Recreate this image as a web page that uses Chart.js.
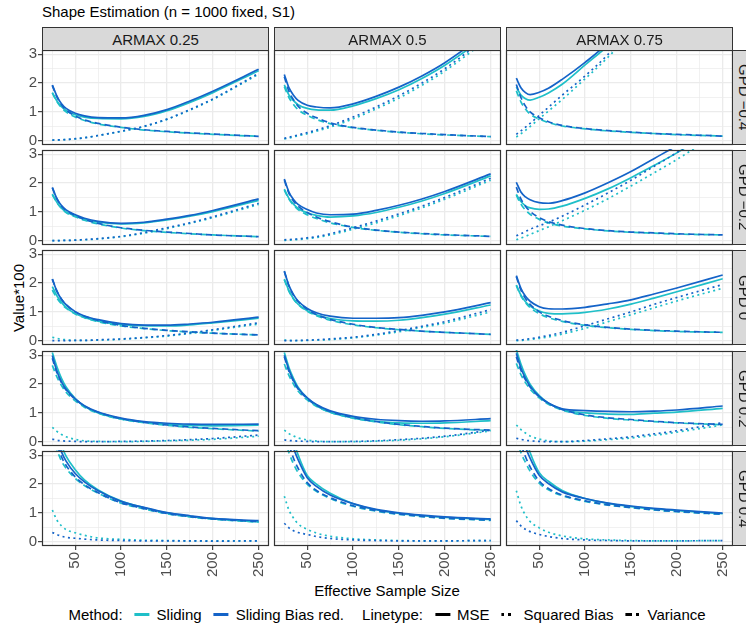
<!DOCTYPE html>
<html>
<head>
<meta charset="utf-8">
<script src="https://cdn.jsdelivr.net/npm/chart.js@4.4.1/dist/chart.umd.min.js"></script>
<style>
  body { margin: 0; background: #fff; font-family: "Liberation Sans", Arial, sans-serif; }
  #wrap { position: relative; width: 746px; height: 625px; overflow: hidden; background: #fff; }
  #wrap canvas { position: absolute; }
  .txt { position: absolute; white-space: nowrap; color: #000; font-size: 15px; }
  .strip { position: absolute; box-sizing: border-box; background: #d9d9d9; border: 1px solid #333;
           color: #1a1a1a; font-size: 15px; display: flex; align-items: center; justify-content: center; white-space: nowrap; }
  .strip.side { writing-mode: vertical-rl; }
  #legend { position: absolute; left: 387px; top: 606px; transform: translateX(-50%); display: flex; align-items: center;
            font-size: 15px; color: #000; white-space: nowrap; }
  #legend .key { display: inline-block; width: 15px; height: 3px; margin: 0 7px 0 12px; }
  #legend .gap { margin-left: 18px; }
</style>
</head>
<body>
<div id="wrap">
  <div class="txt" style="left:42px; top:3px;">Shape Estimation (n = 1000 fixed, S1)</div>
  <div class="txt" style="left:18px; top:298px; transform: translate(-50%,-50%) rotate(-90deg);">Value*100</div>
  <div class="txt" style="left:387px; top:590px; transform: translate(-50%,-50%);">Effective Sample Size</div>
  <div id="legend"></div>
</div>
<script>
// x-Werte (Effective Sample Size) und Achsenticks
const X_VALUES = [25, 30, 35, 40, 50, 60, 75, 100, 125, 150, 175, 200, 250];
const X_TICKS = [25, 50, 75, 100, 125, 150, 175, 200, 225, 250];
const Y_TICKS = [0, 0.5, 1, 1.5, 2, 2.5, 3];
const COLUMN_LABELS = ["ARMAX 0.25", "ARMAX 0.5", "ARMAX 0.75"];
const ROW_LABELS = ["GPD \u22120.4", "GPD \u22120.2", "GPD 0", "GPD 0.2", "GPD 0.4"];

// one entry per panel, rows GPD -0.4 .. 0.4, columns ARMAX 0.25 .. 0.75
const MSE_SLIDING = [
  [1.67,1.38,1.18,1.05,0.90,0.82,0.77,0.76,0.84,1.04,1.33,1.67,2.43],
  [1.94,1.59,1.39,1.25,1.12,1.07,1.06,1.21,1.46,1.77,2.16,2.62,3.74],
  [1.86,1.59,1.46,1.41,1.51,1.66,1.96,2.63,3.30,4.10,4.95,5.80,7.55],
  [1.62,1.33,1.13,1.00,0.85,0.74,0.64,0.58,0.62,0.72,0.85,1.01,1.40],
  [1.79,1.47,1.27,1.12,0.97,0.88,0.82,0.86,0.98,1.16,1.38,1.64,2.25],
  [1.61,1.36,1.21,1.14,1.09,1.10,1.20,1.47,1.80,2.19,2.61,3.05,4.05],
  [1.88,1.56,1.33,1.16,0.94,0.81,0.68,0.56,0.52,0.51,0.55,0.62,0.78],
  [2.14,1.74,1.46,1.27,1.04,0.90,0.77,0.69,0.68,0.71,0.80,0.92,1.24],
  [1.93,1.58,1.35,1.20,1.03,0.95,0.93,0.98,1.10,1.27,1.48,1.70,2.15],
  [3.10,2.60,2.20,1.90,1.50,1.23,1.00,0.79,0.68,0.61,0.57,0.55,0.57],
  [3.10,2.58,2.20,1.89,1.51,1.25,1.02,0.82,0.71,0.65,0.64,0.65,0.73],
  [3.20,2.70,2.30,2.00,1.60,1.34,1.12,1.00,0.96,0.95,0.99,1.03,1.16],
  [4.80,3.95,3.35,2.97,2.50,2.15,1.80,1.41,1.18,1.00,0.88,0.80,0.69],
  [5.20,4.20,3.50,3.02,2.30,2.00,1.68,1.32,1.11,0.98,0.90,0.84,0.77],
  [5.30,4.30,3.60,3.10,2.40,2.10,1.78,1.50,1.33,1.22,1.14,1.08,0.97]
];
const MSE_BIASRED = [
  [1.93,1.55,1.28,1.12,0.95,0.86,0.80,0.79,0.88,1.08,1.38,1.72,2.48],
  [2.30,1.84,1.58,1.40,1.23,1.17,1.14,1.28,1.54,1.86,2.25,2.71,3.84],
  [2.17,1.84,1.67,1.60,1.68,1.82,2.13,2.72,3.40,4.30,5.25,6.10,7.90],
  [1.85,1.46,1.22,1.07,0.90,0.78,0.67,0.60,0.64,0.75,0.88,1.05,1.45],
  [2.14,1.69,1.43,1.26,1.08,0.96,0.90,0.92,1.05,1.23,1.45,1.71,2.32],
  [2.03,1.69,1.52,1.42,1.32,1.30,1.39,1.66,2.01,2.40,2.85,3.30,4.30],
  [2.14,1.72,1.44,1.25,1.01,0.86,0.73,0.59,0.54,0.54,0.58,0.64,0.82],
  [2.42,1.92,1.60,1.38,1.12,0.97,0.85,0.78,0.78,0.80,0.88,1.00,1.32],
  [2.26,1.82,1.54,1.37,1.18,1.11,1.10,1.16,1.28,1.42,1.62,1.83,2.28],
  [2.99,2.45,2.08,1.82,1.49,1.25,1.03,0.82,0.70,0.64,0.61,0.60,0.61],
  [3.00,2.50,2.13,1.86,1.52,1.29,1.07,0.88,0.78,0.73,0.71,0.72,0.80],
  [3.07,2.56,2.20,1.93,1.57,1.34,1.14,1.08,1.05,1.04,1.06,1.10,1.24],
  [4.30,3.62,3.12,2.80,2.37,2.08,1.77,1.40,1.19,1.01,0.90,0.81,0.73],
  [4.60,3.80,3.25,2.85,2.22,1.92,1.62,1.32,1.12,1.00,0.92,0.86,0.79],
  [4.70,3.90,3.30,2.90,2.31,2.02,1.73,1.50,1.34,1.24,1.16,1.10,0.99]
];
const BIAS_SLIDING = [
  [0.02,0.02,0.03,0.04,0.06,0.10,0.18,0.32,0.49,0.74,1.06,1.43,2.31],
  [0.06,0.09,0.13,0.17,0.24,0.33,0.47,0.76,1.10,1.48,1.92,2.42,3.60],
  [0.13,0.24,0.36,0.49,0.76,1.03,1.43,2.15,2.90,3.75,4.60,5.50,7.30],
  [0.00,0.00,0.01,0.01,0.02,0.03,0.06,0.14,0.26,0.42,0.60,0.80,1.26],
  [0.01,0.02,0.03,0.04,0.07,0.11,0.20,0.40,0.62,0.87,1.14,1.44,2.10],
  [0.03,0.09,0.15,0.22,0.35,0.48,0.69,1.06,1.46,1.90,2.35,2.82,3.85],
  [0.12,0.08,0.05,0.03,0.01,0.01,0.02,0.05,0.10,0.16,0.25,0.36,0.58],
  [0.02,0.01,0.00,0.00,0.01,0.02,0.04,0.10,0.19,0.31,0.46,0.61,1.00],
  [0.00,0.01,0.02,0.04,0.08,0.13,0.23,0.43,0.66,0.90,1.14,1.38,1.82],
  [0.50,0.36,0.25,0.17,0.08,0.03,0.01,0.00,0.01,0.03,0.05,0.08,0.19],
  [0.40,0.28,0.20,0.13,0.06,0.02,0.00,0.00,0.02,0.05,0.10,0.17,0.37],
  [0.58,0.42,0.30,0.20,0.09,0.03,0.00,0.02,0.07,0.13,0.22,0.33,0.58],
  [1.10,0.75,0.55,0.42,0.31,0.22,0.13,0.08,0.05,0.04,0.03,0.03,0.03],
  [1.58,1.10,0.82,0.62,0.43,0.30,0.19,0.10,0.06,0.04,0.03,0.03,0.04],
  [1.77,1.25,0.92,0.70,0.48,0.33,0.20,0.10,0.06,0.04,0.03,0.03,0.04]
];
const BIAS_BIASRED = [
  [0.02,0.03,0.03,0.04,0.07,0.10,0.18,0.33,0.50,0.75,1.08,1.45,2.34],
  [0.08,0.12,0.16,0.20,0.28,0.37,0.52,0.82,1.17,1.56,2.00,2.50,3.70],
  [0.22,0.34,0.47,0.60,0.88,1.16,1.58,2.25,3.00,3.95,4.90,5.80,7.60],
  [0.00,0.00,0.01,0.01,0.02,0.04,0.07,0.15,0.28,0.45,0.62,0.83,1.30],
  [0.03,0.04,0.05,0.06,0.10,0.14,0.24,0.45,0.68,0.93,1.20,1.50,2.17],
  [0.17,0.24,0.32,0.40,0.52,0.64,0.85,1.24,1.66,2.10,2.58,3.06,4.10],
  [0.00,0.00,0.00,0.00,0.01,0.01,0.03,0.06,0.11,0.18,0.27,0.38,0.62],
  [0.00,0.00,0.00,0.01,0.02,0.03,0.06,0.12,0.22,0.35,0.50,0.66,1.08],
  [0.02,0.03,0.05,0.07,0.12,0.18,0.29,0.52,0.76,1.00,1.26,1.50,1.95],
  [0.09,0.05,0.03,0.02,0.01,0.00,0.00,0.01,0.02,0.04,0.07,0.11,0.23],
  [0.06,0.04,0.03,0.02,0.01,0.00,0.00,0.01,0.03,0.07,0.12,0.19,0.40],
  [0.12,0.08,0.05,0.03,0.01,0.00,0.00,0.04,0.10,0.17,0.27,0.38,0.66],
  [0.32,0.25,0.19,0.15,0.12,0.09,0.06,0.04,0.03,0.03,0.03,0.02,0.03],
  [0.64,0.48,0.38,0.32,0.25,0.18,0.11,0.06,0.04,0.03,0.03,0.03,0.04],
  [0.73,0.55,0.43,0.35,0.25,0.18,0.11,0.06,0.04,0.03,0.03,0.03,0.04]
];
const VAR_SLIDING = [
  [1.66,1.36,1.15,1.00,0.82,0.70,0.58,0.46,0.37,0.31,0.26,0.22,0.15],
  [1.88,1.50,1.26,1.08,0.88,0.74,0.59,0.45,0.36,0.29,0.24,0.20,0.14],
  [1.73,1.35,1.10,0.92,0.75,0.63,0.51,0.41,0.34,0.29,0.25,0.21,0.16],
  [1.60,1.32,1.12,0.98,0.83,0.71,0.58,0.44,0.35,0.29,0.24,0.20,0.14],
  [1.76,1.45,1.24,1.08,0.90,0.77,0.62,0.46,0.36,0.29,0.24,0.20,0.15],
  [1.58,1.27,1.06,0.92,0.74,0.62,0.51,0.41,0.34,0.29,0.26,0.23,0.20],
  [1.76,1.48,1.28,1.13,0.93,0.80,0.66,0.51,0.42,0.35,0.30,0.26,0.20],
  [2.12,1.72,1.45,1.26,1.02,0.87,0.71,0.55,0.45,0.38,0.33,0.29,0.22],
  [1.92,1.56,1.32,1.15,0.94,0.80,0.67,0.53,0.45,0.39,0.35,0.32,0.29],
  [2.65,2.25,1.95,1.72,1.42,1.20,0.99,0.78,0.66,0.57,0.50,0.45,0.37],
  [2.70,2.30,2.00,1.76,1.45,1.23,1.02,0.82,0.69,0.59,0.52,0.46,0.39],
  [2.72,2.33,2.05,1.83,1.52,1.30,1.10,0.91,0.81,0.75,0.70,0.65,0.59],
  [3.70,3.20,2.80,2.55,2.20,1.95,1.68,1.34,1.14,0.97,0.86,0.78,0.68],
  [3.60,3.10,2.70,2.40,2.00,1.75,1.50,1.23,1.06,0.95,0.87,0.81,0.74],
  [3.60,3.10,2.75,2.45,2.03,1.80,1.60,1.40,1.27,1.18,1.10,1.04,0.95]
];
const VAR_BIASRED = [
  [1.92,1.52,1.25,1.07,0.86,0.72,0.60,0.47,0.38,0.32,0.27,0.23,0.15],
  [2.22,1.72,1.42,1.20,0.95,0.80,0.62,0.46,0.37,0.30,0.25,0.21,0.14],
  [1.95,1.50,1.20,1.00,0.80,0.66,0.53,0.42,0.35,0.30,0.25,0.22,0.16],
  [1.83,1.45,1.20,1.05,0.87,0.74,0.60,0.45,0.36,0.30,0.25,0.20,0.14],
  [2.10,1.65,1.38,1.20,0.98,0.82,0.66,0.47,0.37,0.30,0.25,0.21,0.15],
  [1.86,1.45,1.20,1.02,0.80,0.66,0.54,0.42,0.35,0.30,0.27,0.24,0.20],
  [2.14,1.72,1.44,1.25,1.00,0.85,0.70,0.53,0.43,0.36,0.31,0.26,0.20],
  [2.40,1.90,1.58,1.36,1.09,0.91,0.74,0.57,0.46,0.39,0.33,0.29,0.22],
  [2.22,1.76,1.46,1.26,1.00,0.85,0.70,0.55,0.46,0.40,0.36,0.33,0.29],
  [2.90,2.40,2.05,1.80,1.47,1.24,1.02,0.80,0.67,0.58,0.51,0.46,0.38],
  [2.95,2.45,2.10,1.83,1.50,1.27,1.05,0.84,0.70,0.60,0.53,0.47,0.40],
  [2.95,2.48,2.15,1.90,1.56,1.33,1.12,0.93,0.83,0.77,0.71,0.66,0.60],
  [4.00,3.40,2.95,2.65,2.25,1.98,1.70,1.35,1.15,0.98,0.87,0.79,0.70],
  [4.00,3.40,2.90,2.55,2.05,1.78,1.53,1.25,1.08,0.96,0.88,0.82,0.75],
  [4.00,3.40,2.95,2.60,2.10,1.85,1.62,1.42,1.28,1.19,1.11,1.05,0.96]
];

const COLOR_SLIDING = "#1fbfc8";
const COLOR_BIASRED = "#1463c8";
const DASH_BIAS = [2, 3.5];
const DASH_VAR = [6, 4];

// Panel-Geometrie
const COL_LEFT = [42, 274, 506];
const ROW_TOP = [50, 150, 250, 351, 451];
const PANEL_W = 227;
const PANEL_H = 95;

const TICK_FONT = { family: "'Liberation Sans', Arial, sans-serif", size: 15 };

// Rahmen um jedes Panel
const panelBorder = {
    id: "panelBorder",
    afterDraw(chart) {
        const a = chart.chartArea;
        const ctx = chart.ctx;
        ctx.save();
        ctx.strokeStyle = "#333333";
        ctx.lineWidth = 1.2;
        ctx.strokeRect(a.left + 0.5, a.top + 0.5, a.right - a.left - 1, a.bottom - a.top - 1);
        ctx.restore();
    }
};

function line(values, color, dash) {
    return {
        data: X_VALUES.map((x, i) => ({ x: x, y: values[i] })),
        borderColor: color,
        borderWidth: 1.7,
        borderDash: dash,
        borderCapStyle: "butt",
        pointRadius: 0,
        fill: false,
        cubicInterpolationMode: "monotone",
        clip: 1
    };
}

function makePanel(r, c) {
    const idx = r * 3 + c;
    const yLabels = c === 0;
    const xLabels = r === ROW_TOP.length - 1;
    const extraLeft = yLabels ? 40 : 6;
    const w = PANEL_W + extraLeft + 6;
    const h = PANEL_H + 10 + (xLabels ? 40 : 10);

    const canvas = document.createElement("canvas");
    canvas.width = w;
    canvas.height = h;
    canvas.style.width = w + "px";
    canvas.style.height = h + "px";
    canvas.style.left = (COL_LEFT[c] - extraLeft) + "px";
    canvas.style.top = (ROW_TOP[r] - 10) + "px";
    document.getElementById("wrap").appendChild(canvas);

    new Chart(canvas.getContext("2d"), {
        type: "line",
        data: {
            datasets: [
                line(MSE_BIASRED[idx], COLOR_BIASRED, []),
                line(BIAS_BIASRED[idx], COLOR_BIASRED, DASH_BIAS),
                line(VAR_BIASRED[idx], COLOR_BIASRED, DASH_VAR),
                line(MSE_SLIDING[idx], COLOR_SLIDING, []),
                line(BIAS_SLIDING[idx], COLOR_SLIDING, DASH_BIAS),
                line(VAR_SLIDING[idx], COLOR_SLIDING, DASH_VAR)
            ]
        },
        options: {
            responsive: false,
            animation: false,
            devicePixelRatio: 1,
            events: [],
            layout: {
                autoPadding: false,
                padding: { left: yLabels ? 0 : 6, top: 10, right: 6, bottom: xLabels ? 0 : 10 }
            },
            plugins: { legend: { display: false }, tooltip: { enabled: false } },
            scales: {
                x: {
                    type: "linear",
                    min: 13.75,
                    max: 261.25,
                    afterBuildTicks: (s) => { s.ticks = X_TICKS.map((v) => ({ value: v })); },
                    afterFit: (s) => { s.height = xLabels ? 40 : 0; s.paddingLeft = 0; s.paddingRight = 0; },
                    border: { display: false },
                    grid: {
                        color: "#ebebeb",
                        lineWidth: (ctx) => (ctx.tick && ctx.tick.value % 50 === 0 ? 1.3 : 0.7),
                        drawTicks: xLabels,
                        tickLength: 4,
                        tickWidth: 1.1,
                        tickColor: (ctx) => (ctx.tick && ctx.tick.value % 50 === 0 ? "#333333" : "rgba(0,0,0,0)")
                    },
                    ticks: {
                        display: xLabels,
                        autoSkip: false,
                        minRotation: 90,
                        maxRotation: 90,
                        padding: 2,
                        color: "#4d4d4d",
                        font: TICK_FONT,
                        callback: (v) => (v % 50 === 0 ? String(v) : "")
                    }
                },
                y: {
                    type: "linear",
                    min: -0.15,
                    max: 3.15,
                    afterBuildTicks: (s) => { s.ticks = Y_TICKS.map((v) => ({ value: v })); },
                    afterFit: (s) => { s.width = yLabels ? 40 : 0; s.paddingTop = 0; s.paddingBottom = 0; },
                    border: { display: false },
                    grid: {
                        color: "#ebebeb",
                        lineWidth: (ctx) => (ctx.tick && Number.isInteger(ctx.tick.value) ? 1.3 : 0.7),
                        drawTicks: yLabels,
                        tickLength: 4,
                        tickWidth: 1.1,
                        tickColor: (ctx) => (ctx.tick && Number.isInteger(ctx.tick.value) ? "#333333" : "rgba(0,0,0,0)")
                    },
                    ticks: {
                        display: yLabels,
                        autoSkip: false,
                        padding: 1,
                        color: "#4d4d4d",
                        font: TICK_FONT,
                        callback: (v) => (Number.isInteger(v) ? String(v) : "")
                    }
                }
            }
        },
        plugins: [panelBorder]
    });
}

function addStrips() {
    const wrap = document.getElementById("wrap");
    COLUMN_LABELS.forEach((label, c) => {
        const d = document.createElement("div");
        d.className = "strip";
        d.style.left = COL_LEFT[c] + "px";
        d.style.top = "27px";
        d.style.width = PANEL_W + "px";
        d.style.height = "24px";
        d.textContent = label;
        wrap.appendChild(d);
    });
    ROW_LABELS.forEach((label, r) => {
        const d = document.createElement("div");
        d.className = "strip side";
        d.style.left = (COL_LEFT[2] + PANEL_W - 1) + "px";
        d.style.top = ROW_TOP[r] + "px";
        d.style.width = "24px";
        d.style.height = PANEL_H + "px";
        d.textContent = label;
        wrap.appendChild(d);
    });
}

function addLegend() {
    const legend = document.getElementById("legend");
    const dotted = "linear-gradient(90deg,#000 0 3px,transparent 3px 7px,#000 7px 10px,transparent 10px)";
    const dashed = "linear-gradient(90deg,#000 0 7px,transparent 7px 11px,#000 11px 14px,transparent 14px)";
    legend.innerHTML =
        '<span>Method:</span>' +
        '<i class="key" style="background:' + COLOR_SLIDING + '"></i><span>Sliding</span>' +
        '<i class="key" style="background:' + COLOR_BIASRED + '"></i><span>Sliding Bias red.</span>' +
        '<span class="gap">Linetype:</span>' +
        '<i class="key" style="background:#000"></i><span>MSE</span>' +
        '<i class="key" style="background:' + dotted + '"></i><span>Squared Bias</span>' +
        '<i class="key" style="background:' + dashed + '"></i><span>Variance</span>';
}

document.addEventListener("DOMContentLoaded", function () {
    for (let r = 0; r < ROW_TOP.length; r++) {
        for (let c = 0; c < COL_LEFT.length; c++) {
            makePanel(r, c);
        }
    }
    addStrips();
    addLegend();
});
</script>
</body>
</html>
